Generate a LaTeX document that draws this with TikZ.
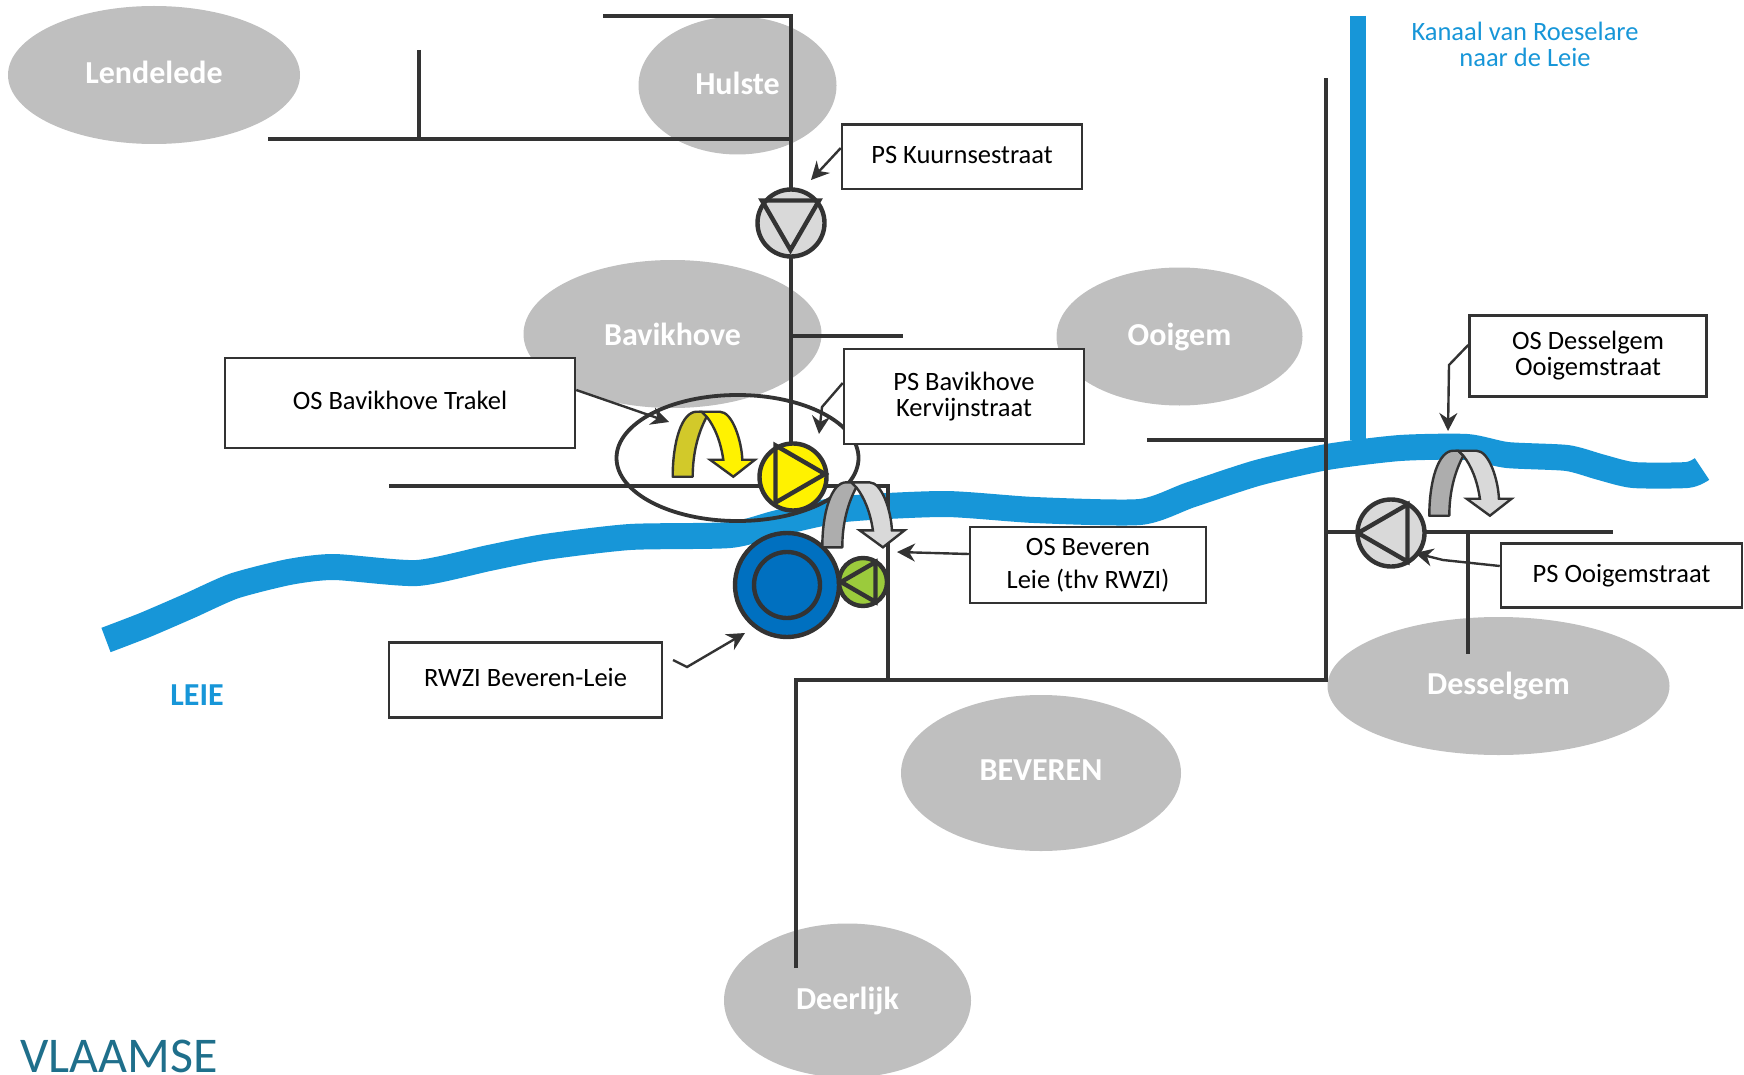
\documentclass[tikz,border=0pt]{standalone}
\usepackage{fontspec}
\usepackage{xcolor}
\setmainfont{Carlito}
\usetikzlibrary{shapes.geometric,arrows.meta}
\definecolor{darkline}{HTML}{333333}
\definecolor{town}{HTML}{BFBFBF}
\definecolor{pumpgrey}{HTML}{D9D9D9}
\definecolor{pumpgreen}{HTML}{9BCB3C}
\definecolor{water}{HTML}{1796D8}
\definecolor{plant}{HTML}{0070C0}
\definecolor{logo}{HTML}{1F6F8B}
\tikzset{
  townnode/.style={ellipse, fill=town, text=white, font=\fontsize{32}{36}\selectfont\bfseries, inner sep=0pt},
  labelbox/.style={draw=darkline, line width=2.5pt, fill=white, align=center, font=\fontsize{26.5}{26}\selectfont, inner sep=0pt},
  lifted/.style={text depth=5pt},
  pipe/.style={draw=darkline, line width=4pt},
  callout/.style={draw=darkline, line width=2.4pt, -{Stealth[length=18pt,width=18pt]}},
  pumpnode/.style={circle, draw=darkline, line width=4.4pt, inner sep=0pt},
  pumptri/.style={regular polygon, regular polygon sides=3, draw=darkline, line width=4.4pt, inner sep=0pt},
  pics/bentarrow/.style n args={2}{code={
    \draw[draw=darkline, line width=2.4pt, line join=round, fill=#1] (0,0) .. controls (0,-35) and (9,-65) .. (24,-65) -- (29,-65) -- (34,-60) .. controls (26,-45) and (20,-25) .. (20,0) -- cycle;
    \draw[draw=darkline, line width=2.4pt, line join=miter, fill=#2] (29,-65) -- (47,-65) .. controls (60,-65) and (69,-35) .. (69.6,-17) -- (82.3,-17) -- (60.6,0) -- (37.3,-17) -- (50.6,-17) .. controls (48,-35) and (42,-50) .. (34,-60) -- cycle;
  }}
}

\begin{document}
\begin{tikzpicture}[x=1pt, y=-1pt]
  \useasboundingbox (0,0) rectangle (1744,1075);
  \clip (0,0) rectangle (1744,1075);

  \node[townnode, lifted, minimum width=292pt, minimum height=138pt] (lendelede) at (154,75) {Lendelede};
  \node[townnode, lifted, minimum width=198pt, minimum height=138pt] (hulste) at (737.5,85.5) {Hulste};
  \node[townnode, minimum width=298pt, minimum height=148pt] (bavikhove) at (672.5,334) {Bavikhove};
  \node[townnode, minimum width=246pt, minimum height=138pt] (ooigem) at (1179.5,336.5) {Ooigem};
  \node[townnode, minimum width=342pt, minimum height=138pt] (desselgem) at (1498.5,686) {Desselgem};
  \node[townnode, lifted, minimum width=280pt, minimum height=156pt] (beveren) at (1041,773) {BEVEREN};
  \node[townnode, minimum width=247pt, minimum height=154pt] (deerlijk) at (847.5,1000.5) {Deerlijk};

  \draw[water, line width=26pt, line join=round] plot[smooth, tension=0.4] coordinates {(106,640) (145,625) (189,606) (234,586) (289,572) (334,567) (417,573) (489,558) (545,547) (630,537) (730,535) (778,523) (845,509) (945,504) (1034,510) (1140,512) (1190,495) (1257,473) (1327,457) (1400,448) (1467,447) (1507,455) (1567,458) (1600,467) (1633,475) (1687,475) (1702,469)};
  \draw[water, line width=16pt] (1358,16) -- (1358,440);

  \node[text=water, align=center, font=\fontsize{26.5}{26}\selectfont] (kanaal) at (1525,44) {Kanaal van Roeselare\\naar de Leie};
  \node[text=water, font=\fontsize{32}{36}\selectfont\bfseries] (leie) at (197,695) {LEIE};
  \node[text=logo, anchor=base west, inner sep=0pt, font=\fontsize{50}{54}\selectfont] (vlaamse) at (20,1072) {VLAAMSE};

  \coordinate (kuurne) at (791,223);
  \coordinate (kervijn) at (793,477);
  \coordinate (rwzi) at (787,585);
  \coordinate (rwzipump) at (863,582);
  \coordinate (ooigempump) at (1391,533);
  \coordinate (hulsteA) at (603,16.5);
  \coordinate (hulsteB) at (791,16.5);
  \coordinate (lendA) at (268,139);
  \coordinate (lendB) at (791,139);
  \coordinate (lendC) at (419,50);
  \coordinate (lendD) at (419,139);
  \coordinate (kervijnin) at (791,477);
  \coordinate (bavA) at (791,336);
  \coordinate (bavB) at (903,336);
  \coordinate (trakelA) at (389,486);
  \coordinate (trakelB) at (888,486);
  \coordinate (trakelC) at (888,680);
  \coordinate (deerA) at (796,968);
  \coordinate (deerB) at (796,680);
  \coordinate (ringA) at (1326,680);
  \coordinate (ringB) at (1326,78);
  \coordinate (ooiA) at (1147,440);
  \coordinate (ooiB) at (1326,440);
  \coordinate (desA) at (1326,532);
  \coordinate (desB) at (1613,532);
  \coordinate (desC) at (1468,532);
  \coordinate (desD) at (1468,654);

  \draw[pipe] (hulsteA) -- (hulsteB) -- (kervijnin);
  \draw[pipe] (lendA) -- (lendB);
  \draw[pipe] (lendC) -- (lendD);
  \draw[pipe] (bavA) -- (bavB);
  \draw[pipe] (trakelA) -- (trakelB) -- (trakelC);
  \draw[pipe] (deerA) -- (deerB) -- (ringA) -- (ringB);
  \draw[pipe] (ooiA) -- (ooiB);
  \draw[pipe] (desA) -- (desB);
  \draw[pipe] (desC) -- (desD);

  \node[draw=darkline, line width=3.8pt, ellipse, minimum width=242pt, minimum height=126pt, inner sep=0pt] (trakelring) at (737.5,458) {};

  \node[pumpnode, fill=pumpgrey, minimum size=67pt] (kuurnepump) at (kuurne) {};
  \node[pumpnode, fill=yellow, minimum size=67pt] (kervijnpump) at (kervijn) {};
  \node[pumpnode, fill=plant, minimum size=104pt] (rwziout) at (rwzi) {};
  \node[pumpnode, fill=plant, minimum size=66pt] (rwziin) at (rwzi) {};
  \node[pumpnode, fill=pumpgreen, minimum size=48pt] (greenpump) at (rwzipump) {};
  \node[pumpnode, fill=pumpgrey, minimum size=67pt] (greypump) at (ooigempump) {};
  \node[pumptri, minimum size=66pt, shape border rotate=180] (kuurnetri) at (790.5,217) {};
  \node[pumptri, minimum size=66pt, shape border rotate=-90] (kervijntri) at (792,474) {};
  \node[pumptri, minimum size=46pt, shape border rotate=90] (rwzitri) at (864,582) {};
  \node[pumptri, minimum size=66pt, shape border rotate=90] (ooigemtri) at (1391,533) {};

  \pic at (672.7,476.7) {bentarrow={yellow!80!black}{yellow}};
  \pic at (822.3,547.3) {bentarrow={black!32}{black!15}};
  \pic at (1429.3,515.7) {bentarrow={black!32}{black!15}};

  \node[labelbox, lifted, minimum width=240pt, minimum height=64.5pt] (kuurnebox) at (962,157) {PS Kuurnsestraat};
  \node[labelbox, lifted, minimum width=350pt, minimum height=90pt] (trakelbox) at (400,403) {OS Bavikhove Trakel};
  \node[labelbox, minimum width=240pt, minimum height=95pt] (kervijnbox) at (964,396.5) {PS Bavikhove\\Kervijnstraat};
  \node[labelbox, minimum width=237pt, minimum height=81pt] (desselbox) at (1588,356) {OS Desselgem\\Ooigemstraat};
  \node[labelbox, minimum width=236pt, minimum height=76pt] (beverenbox) at (1088,565) {OS Beveren\\[7pt]Leie (thv RWZI)};
  \node[labelbox, minimum width=241pt, minimum height=64pt] (ooigembox) at (1621.5,575.5) {PS Ooigemstraat};
  \node[labelbox, lifted, minimum width=273pt, minimum height=75pt] (rwzibox) at (525.5,680) {RWZI Beveren-Leie};

  \coordinate (kuurnetip) at (811,180);
  \coordinate (trakeltip) at (669,422);
  \coordinate (kervijnbend) at (822,407);
  \coordinate (kervijntip) at (819,434);
  \coordinate (desselbend) at (1449,365);
  \coordinate (desseltip) at (1448,431);
  \coordinate (beverentip) at (897,552);
  \coordinate (ooigembend) at (1443,560);
  \coordinate (ooigemtip) at (1415,553);
  \coordinate (rwzistart) at (673,660);
  \coordinate (rwzibend) at (687,667);
  \coordinate (rwzitip) at (745,633);

  \draw[callout] (kuurnebox.west |- 0,148) -- (kuurnetip);
  \draw[callout] (trakelbox.east |- 0,390) -- (trakeltip);
  \draw[callout] (kervijnbox.west |- 0,383) -- (kervijnbend) -- (kervijntip);
  \draw[callout] (desselbox.west |- 0,345) -- (desselbend) -- (desseltip);
  \draw[callout] (beverenbox.west |- 0,554) -- (beverentip);
  \draw[callout] (ooigembox.west |- 0,566) -- (ooigembend) -- (ooigemtip);
  \draw[callout] (rwzistart) -- (rwzibend) -- (rwzitip);
\end{tikzpicture}
\end{document}
